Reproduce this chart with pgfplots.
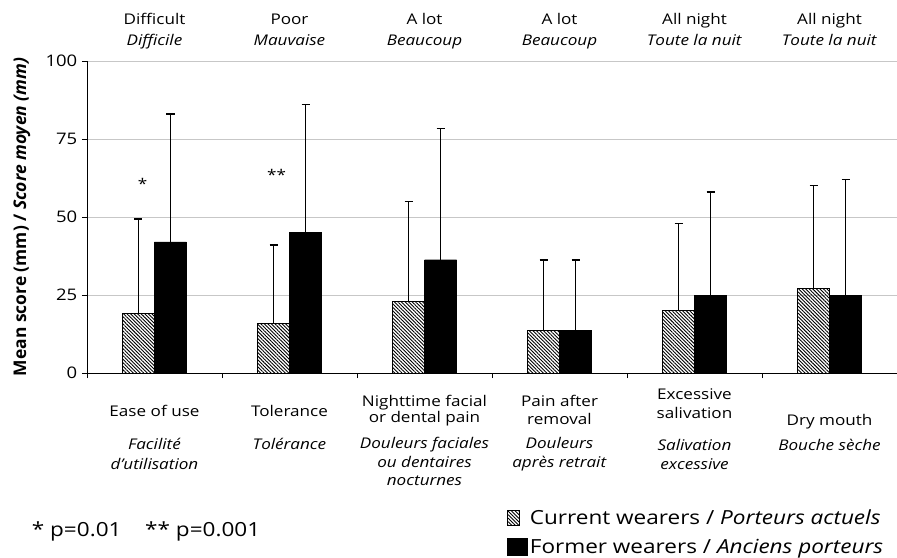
\documentclass[border=0pt]{standalone}
\usepackage{fontspec}
\setmainfont{Open Sans}
\usepackage{graphicx}
\usepackage{pgfplots}
\pgfplotsset{compat=1.18}
\usetikzlibrary{patterns,patterns.meta}

\newcommand{\lab}{\fontsize{14.8}{17}\selectfont}
\newcommand{\bigf}{\fontsize{19.5}{22}\selectfont}
\newcommand{\tickf}{\fontsize{16}{18}\selectfont}
\newcommand{\hs}[1]{\scalebox{1.16}[1]{#1}}
% one line of text under the axis: category, depth of baseline below y=0 (bp), text
\newcommand{\bl}[3]{\node[anchor=base,font=\lab,inner sep=0pt] at (axis cs:#1,0) [yshift=-#2bp] {\hs{#3}};}
% one line above the axis
\newcommand{\tl}[3]{\node[anchor=base,font=\lab,inner sep=0pt] at (axis cs:#1,100) [yshift=#2bp] {\hs{#3}};}

\begin{document}
\begin{tikzpicture}
\useasboundingbox (-87bp,-185bp) rectangle (810bp,373bp);
\begin{axis}[
    at={(0,0)}, anchor=south west,
    scale only axis,
    width=810bp, height=312bp,
    xmin=-0.5, xmax=5.5,
    ymin=0, ymax=100,
    ybar=0pt, bar width=32bp,
    clip=false,
    axis x line*=bottom,
    axis y line*=left,
    axis line style={black, line width=0.8pt},
    xtick={-0.5,0.5,1.5,2.5,3.5,4.5,5.5},
    xticklabels={},
    ytick={0,25,50,75,100},
    yticklabels={\hs{\tickf 0},\hs{\tickf 25},\hs{\tickf 50},\hs{\tickf 75},\hs{\tickf 100}},
    yticklabel style={inner sep=0pt, xshift=-4.5bp},
    tick align=outside,
    major tick length=5bp,
    tick style={black, line width=0.8pt},
    ymajorgrids,
    grid style={black!22, line width=0.9pt},
    legend style={
        at={(rel axis cs:0.515,-0.425)}, anchor=north west,
        draw=none, fill=none,
        font=\bigf,
        row sep=9bp,
        /tikz/every even column/.append style={column sep=0bp},
    },
    legend cell align=left,
    error bars/error bar style={black, line width=0.7pt},
    error bars/error mark options={black, line width=1.4pt, mark size=4bp, rotate=90},
]
% current wearers (hatched)
\addplot[draw=black, line width=0.7pt,
    pattern={Lines[angle=-45, distance=2.5bp, line width=0.9bp]}, pattern color=black,
    legend image code/.code={
        \fill[pattern={Lines[angle=-45, distance=2.5bp, line width=0.9bp]}, pattern color=black]
            (4bp,-7.5bp) rectangle (16bp,7.5bp);
    },
    error bars/.cd, y dir=plus, y explicit]
coordinates {
    (0,19)   +- (0,30.4)
    (1,16)   +- (0,25)
    (2,23)   +- (0,32)
    (3,13.7) +- (0,22.5)
    (4,20)   +- (0,28)
    (5,27)   +- (0,33)
};
% former wearers (black)
\addplot[draw=black, fill=black,
    legend image code/.code={
        \fill[black] (4bp,-8.5bp) rectangle (24bp,8.5bp);
    },
    error bars/.cd, y dir=plus, y explicit]
coordinates {
    (0,42)   +- (0,41)
    (1,45)   +- (0,41)
    (2,36.3) +- (0,42)
    (3,13.7) +- (0,22.5)
    (4,25)   +- (0,33)
    (5,25)   +- (0,37)
};
\legend{\hs{Current wearers / \textit{Porteurs actuels}}, \hs{Former wearers / \textit{Anciens porteurs}}}

% significance
\node[font=\lab] at (axis cs:0,60.7) [xshift=-12bp] {\hs{*}};
\node[font=\lab] at (axis cs:1,63.5) [xshift=-13bp] {\hs{**}};

% labels above
\tl{0}{36.7}{Difficult}      \tl{0}{15.7}{\textit{Difficile}}
\tl{1}{36.7}{Poor}           \tl{1}{15.7}{\textit{Mauvaise}}
\tl{2}{36.7}{A lot}          \tl{2}{15.7}{\textit{Beaucoup}}
\tl{3}{36.7}{A lot}          \tl{3}{15.7}{\textit{Beaucoup}}
\tl{4}{36.7}{All night}      \tl{4}{15.7}{\textit{Toute la nuit}}
\tl{5}{36.7}{All night}      \tl{5}{15.7}{\textit{Toute la nuit}}

% labels below
\bl{0}{43.4}{Ease of use}
\bl{0}{76.7}{\textit{Facilité}}
\bl{0}{96}{\textit{d'utilisation}}
\bl{1}{43.4}{Tolerance}
\bl{1}{76.7}{\textit{Tolérance}}
\bl{2}{33.4}{Nighttime facial}
\bl{2}{49.4}{or dental pain}
\bl{2}{75.7}{\textit{Douleurs faciales}}
\bl{2}{94}{\textit{ou dentaires}}
\bl{2}{112.7}{\textit{nocturnes}}
\bl{3}{33.4}{Pain after}
\bl{3}{51.7}{removal}
\bl{3}{75.7}{\textit{Douleurs}}
\bl{3}{94}{\textit{après retrait}}
\bl{4}{26.7}{Excessive}
\bl{4}{45}{salivation}
\bl{4}{77.4}{\textit{Salivation}}
\bl{4}{96}{\textit{excessive}}
\bl{5}{52.4}{Dry mouth}
\bl{5}{77.4}{\textit{Bouche sèche}}

% y label
\node[xshift=-65bp, rotate=90, font=\fontsize{17.5}{20}\selectfont\bfseries] at (rel axis cs:0,0.5)
    {Mean score (mm) / \textit{Score moyen (mm)}};

% p values
\node[anchor=base west, font=\bigf, inner sep=0pt] at (rel axis cs:0,0) [xshift=-55.3bp, yshift=-163.4bp]
    {\hs{* p=0.01\hspace{1.05em}** p=0.001}};
\end{axis}
\end{tikzpicture}
\end{document}
